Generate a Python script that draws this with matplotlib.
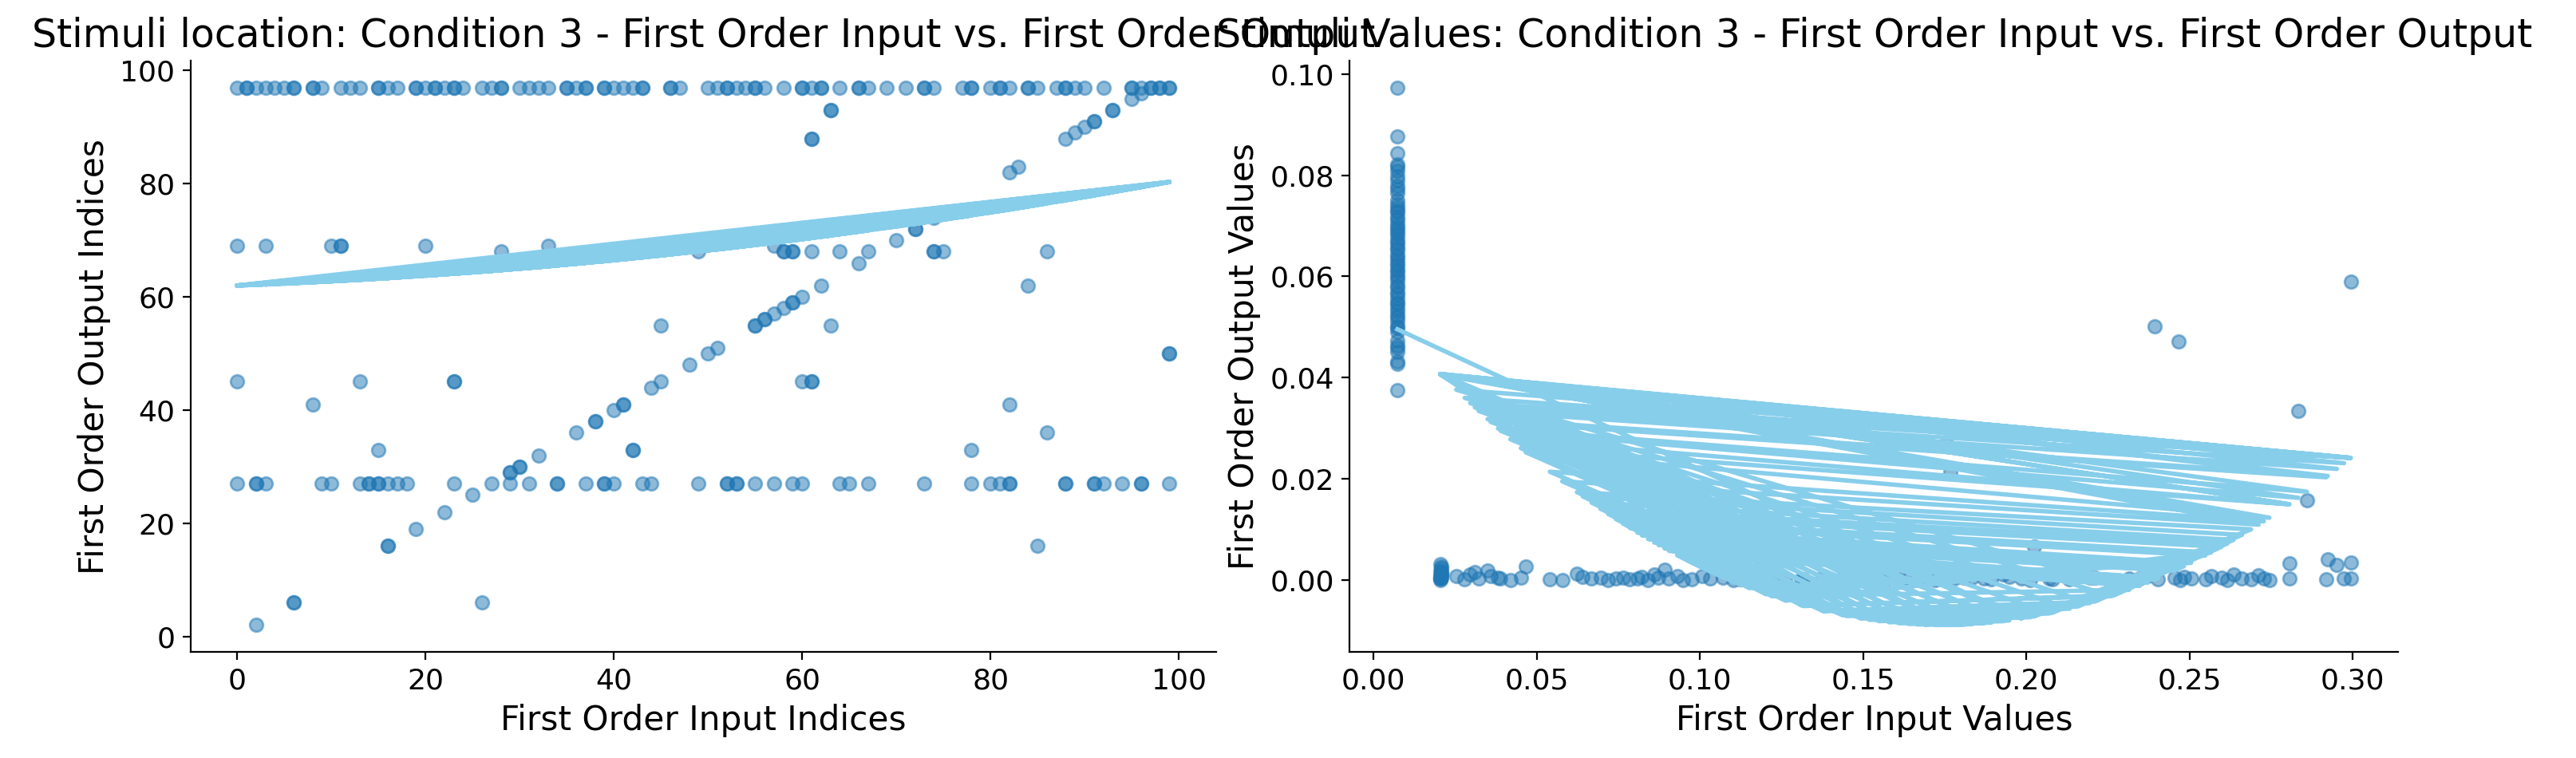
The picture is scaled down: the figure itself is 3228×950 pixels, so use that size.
import numpy as np
import matplotlib
matplotlib.use("Agg")
import matplotlib.pyplot as plt

# ---- left panel: argmax indices ----
row97_x = [0, 1, 1, 2, 3, 4, 5, 6, 6, 8, 8, 9, 11, 12, 13, 15, 15, 16, 17, 19, 19, 20, 21, 21,
           22, 23, 23, 24, 26, 27, 28, 28, 30, 31, 32, 33, 35, 35, 36, 37, 37, 39, 39, 40, 41,
           42, 43, 43, 46, 46, 47, 50, 51, 52, 52, 53, 54, 55, 55, 56, 58, 60, 60, 61, 62, 62,
           64, 66, 66, 67, 69, 71, 73, 73, 74, 77, 78, 78, 80, 81, 81, 82, 84, 84, 85, 87, 88,
           88, 89, 90, 92, 95, 95, 96, 97, 97, 98, 98, 99, 99]
row97_y = [97] * len(row97_x)

row27_x = [99, 96, 96, 94, 92, 91, 91, 88, 88, 82, 82, 81, 80, 78, 73, 67, 65, 64, 60, 59, 57,
           55, 53, 53, 52, 52, 49, 44, 43, 40, 39, 39, 37, 34, 34, 31, 29, 27, 23, 18, 17, 16,
           15, 15, 14, 14, 13, 10, 9, 3, 2, 2, 0]
row27_y = [27] * len(row27_x)

diag_x = [2, 6, 6, 16, 16, 19, 22, 25, 29, 29, 30, 30, 32, 36, 38, 38, 40, 41, 41, 44, 45, 48,
          50, 51, 55, 55, 56, 56, 57, 58, 59, 59, 60, 62, 66, 70, 72, 72, 74, 82, 83, 88, 89,
          90, 91, 91, 93, 93, 95, 96]
diag_y = [2, 6, 6, 16, 16, 19, 22, 25, 29, 29, 30, 30, 32, 36, 38, 38, 40, 41, 41, 44, 45, 48,
          50, 51, 55, 55, 56, 56, 57, 58, 59, 59, 60, 62, 66, 70, 72, 72, 74, 82, 83, 88, 89,
          90, 91, 91, 93, 93, 95, 96]

other_x = [86, 0, 75, 13, 74, 8, 74, 23, 67, 23, 64, 15, 61, 26, 59, 42, 59, 42, 58, 45, 58,
           63, 57, 61, 49, 61, 33, 63, 28, 63, 20, 84, 11, 82, 11, 86, 10, 78, 3, 85, 0, 99,
           60, 99, 61, 61]
other_y = [68, 69, 68, 45, 68, 41, 68, 45, 68, 45, 68, 33, 68, 6, 68, 33, 68, 33, 68, 55, 68,
           55, 69, 88, 68, 88, 69, 93, 68, 93, 69, 62, 69, 41, 69, 36, 69, 33, 69, 16, 45, 50,
           45, 50, 45, 45]

# quadratic fit (highest power first)
fit_idx = [0.001235, 0.0626, 62.0]

# ---- right panel: values ----
col_x = [0.0073] * 60
col_y = [0.0973, 0.0877, 0.0843, 0.0822, 0.0816, 0.0809, 0.0797, 0.0789, 0.0779, 0.0773,
         0.0764, 0.0751, 0.0742, 0.0737, 0.0730, 0.0726, 0.0717, 0.0713, 0.0704, 0.0699,
         0.0694, 0.0687, 0.0682, 0.0675, 0.0669, 0.0664, 0.0656, 0.0652, 0.0644, 0.0639,
         0.0633, 0.0626, 0.0622, 0.0614, 0.0610, 0.0602, 0.0598, 0.0591, 0.0582, 0.0578,
         0.0569, 0.0564, 0.0557, 0.0549, 0.0546, 0.0537, 0.0532, 0.0524, 0.0519, 0.0511,
         0.0502, 0.0498, 0.0491, 0.0473, 0.0464, 0.0459, 0.0451, 0.0433, 0.0427, 0.0375]

clu_x = [0.0205, 0.0207, 0.0206, 0.0204, 0.0208, 0.0205, 0.0206, 0.0207, 0.0204, 0.0205,
         0.0206, 0.0205, 0.0207, 0.0204]
clu_y = [0.0032, 0.0028, 0.0024, 0.0019, 0.0015, 0.0012, 0.0009, 0.0006, 0.0003, 0.0001,
         0.0011, 0.0004, 0.0017, 0.0007]

low_x = [0.0253, 0.0279, 0.0296, 0.0310, 0.0322, 0.0349, 0.0358, 0.0381, 0.0389, 0.0419,
         0.0451, 0.0466, 0.0540, 0.0578, 0.0623, 0.0641, 0.0668, 0.0695, 0.0719, 0.0742,
         0.0764, 0.0785, 0.0808, 0.0822, 0.0841, 0.0860, 0.0873, 0.0891, 0.0905, 0.0930,
         0.0948, 0.0974, 0.1006, 0.1032, 0.1070, 0.1101, 0.1125]
low_y = [0.0008, 0.0002, 0.0011, 0.0016, 0.0004, 0.0019, 0.0009, 0.0006, 0.0003, 0.0001,
         0.0005, 0.0027, 0.0002, 0.0001, 0.0014, 0.0007, 0.0004, 0.0005, 0.0001, 0.0003,
         0.0006, 0.0002, 0.0004, 0.0007, 0.0001, 0.0012, 0.0005, 0.0021, 0.0003, 0.0008,
         0.0000, 0.0002, 0.0009, 0.0004, 0.0006, 0.0001, 0.0002]

mid_x = [0.1985, 0.1220, 0.1310, 0.1380, 0.1450, 0.1520, 0.1580, 0.1640, 0.1690, 0.1756,
         0.1767, 0.1810, 0.1870, 0.1930, 0.2024, 0.2080, 0.2158, 0.2210, 0.2270]
mid_y = [0.0004, 0.0005, 0.0002, 0.0006, 0.0001, 0.0008, 0.0003, 0.0004, 0.0002, 0.0270,
         0.0214, 0.0006, 0.0003, 0.0012, 0.0067, 0.0002, 0.0030, 0.0005, 0.0001]

mid2_x = [0.2315, 0.2262, 0.2195, 0.2133, 0.2071, 0.2012, 0.1948, 0.1893, 0.1834, 0.1779,
          0.1722, 0.1668, 0.1611, 0.1549, 0.1493, 0.1437, 0.1376, 0.1318, 0.1262, 0.1203,
          0.1151]
mid2_y = [0.0003, 0.0001, 0.0006, 0.0002, 0.0004, 0.0001, 0.0007, 0.0002, 0.0005, 0.0003,
          0.0001, 0.0004, 0.0002, 0.0006, 0.0001, 0.0003, 0.0005, 0.0002, 0.0004, 0.0001,
          0.0003]

high_x = [0.2994, 0.2994, 0.2994, 0.2974, 0.2952, 0.2924, 0.2919, 0.2860, 0.2834, 0.2806,
          0.2806, 0.2745, 0.2728, 0.2712, 0.2689, 0.2661, 0.2635, 0.2616, 0.2598, 0.2566,
          0.2549, 0.2505, 0.2483, 0.2472, 0.2466, 0.2455, 0.2404, 0.2393, 0.2372, 0.2348]
high_y = [0.0590, 0.0036, 0.0003, 0.0004, 0.0031, 0.0041, 0.0002, 0.0158, 0.0335, 0.0034,
          0.0003, 0.0001, 0.0004, 0.0010, 0.0002, 0.0003, 0.0012, 0.0001, 0.0006, 0.0008,
          0.0002, 0.0004, 0.0007, 0.0001, 0.0471, 0.0005, 0.0002, 0.0502, 0.0009, 0.0003]

fit_val = [2.1, -0.731, 0.0548]


def interleave(*groups):
    # round-robin the groups of (x, y) lists into one trial sequence
    xs, ys = [], []
    n = max(len(g[0]) for g in groups)
    for i in range(n):
        for gx, gy in groups:
            if i < len(gx):
                xs.append(gx[i])
                ys.append(gy[i])
    return np.array(xs), np.array(ys)


idx_in, idx_out = interleave((row97_x, row97_y), (row27_x, row27_y),
                             (diag_x, diag_y), (other_x, other_y))
bx, by = interleave((mid_x, mid_y), (clu_x, clu_y), (high_x, high_y),
                    (low_x, low_y), (mid2_x, mid2_y))
val_in = np.concatenate([col_x, bx])
val_out = np.concatenate([col_y, by])

fig = plt.figure(figsize=(16.14, 4.75), dpi=200)
ax1 = fig.add_axes([0.074, 0.14, 0.398, 0.78])
ax2 = fig.add_axes([0.524, 0.14, 0.407, 0.78])

ax1.scatter(idx_in, idx_out, alpha=0.5, color="#1f77b4")
ax1.plot(idx_in, np.polyval(fit_idx, idx_in), color="skyblue", linewidth=2)
ax1.set_title("Stimuli location: Condition 3 - First Order Input vs. First Order Output", fontsize=17.6)
ax1.set_xlabel("First Order Input Indices", fontsize=15.2)
ax1.set_ylabel("First Order Output Indices", fontsize=15.2)

ax2.scatter(val_in, val_out, alpha=0.5, color="#1f77b4")
ax2.plot(val_in, np.polyval(fit_val, val_in), color="skyblue", linewidth=2)
ax2.set_title("Stimuli Values: Condition 3 - First Order Input vs. First Order Output", fontsize=17.6)
ax2.set_xlabel("First Order Input Values", fontsize=15.2)
ax2.set_ylabel("First Order Output Values", fontsize=15.2)

for ax in (ax1, ax2):
    ax.spines["top"].set_visible(False)
    ax.spines["right"].set_visible(False)
    ax.tick_params(labelsize=13)

fig.savefig("out.png", dpi=200)
